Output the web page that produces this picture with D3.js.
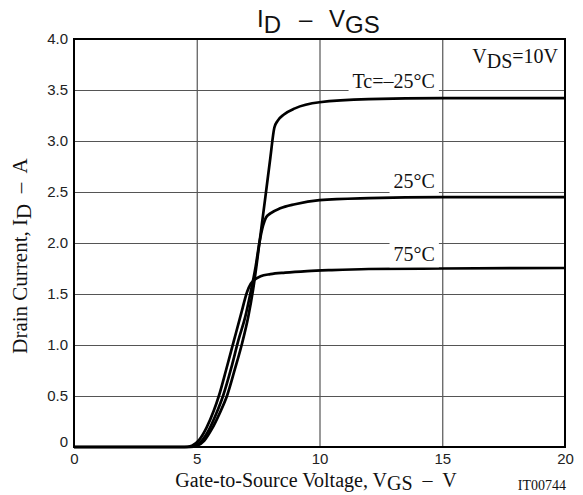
<!DOCTYPE html>
<html lang="en">
  <head>
    <meta charset="utf-8">
    <title>ID - VGS</title>
    <style>
      body { margin: 0; background: #fff; }
      svg { display: block; }
      .tick text { font-family: "Liberation Sans", Arial, sans-serif; font-size: 15px; fill: #222; }
      .serif { font-family: "Liberation Serif", "Times New Roman", serif; fill: #111; }
    </style>
  </head>
  <body>
    <script src="https://d3js.org/d3.v7.min.js"></script>
    <script>
      // curves: gate voltage (V) and drain current (A)
      const vgsM25 = [0, 4.75, 5.0, 5.3, 5.6, 5.95, 6.23, 6.55, 6.85, 7.1, 7.3, 7.58, 7.8, 8.0, 8.16, 8.3, 8.55, 9.0, 10, 12, 15, 20];
      const idM25  = [0, 0, 0.01, 0.06, 0.17, 0.34, 0.5, 0.76, 1.02, 1.28, 1.55, 2.05, 2.46, 2.84, 3.13, 3.2, 3.26, 3.32, 3.38, 3.41, 3.42, 3.42];

      const vgs25 = [0, 4.6, 4.9, 5.2, 5.5, 5.8, 6.07, 6.4, 6.7, 6.98, 7.18, 7.4, 7.55, 7.7, 7.82, 8.0, 8.4, 9.0, 10, 12, 15, 20];
      const id25  = [0, 0, 0.01, 0.06, 0.17, 0.33, 0.5, 0.77, 1.05, 1.28, 1.5, 1.77, 2.0, 2.17, 2.25, 2.29, 2.34, 2.38, 2.42, 2.44, 2.45, 2.45];

      const vgs75 = [0, 4.5, 4.8, 5.1, 5.4, 5.7, 5.9, 6.2, 6.5, 6.8, 7.05, 7.2, 7.35, 7.6, 8.0, 8.6, 9.5, 10.5, 12, 15, 20];
      const id75  = [0, 0, 0.013, 0.07, 0.19, 0.36, 0.5, 0.76, 1.03, 1.3, 1.52, 1.6, 1.64, 1.675, 1.695, 1.71, 1.725, 1.735, 1.745, 1.75, 1.755];

      const curveLabels = ["Tc=\u201325\u00b0C", "25\u00b0C", "75\u00b0C"];
      const xTicks = [0, 5, 10, 15, 20];
      const yTicks = [0, 0.5, 1.0, 1.5, 2.0, 2.5, 3.0, 3.5, 4.0];

      const w = 583;
      const h = 495;
      const margin = {top: 39, right: 18, bottom: 48, left: 74};
      const iw = w - margin.left - margin.right;
      const ih = h - margin.top - margin.bottom;

      const xScale = d3.scaleLinear().domain([0, 20]).range([0, iw]);
      const yScale = d3.scaleLinear().domain([0, 4]).range([ih, 0]);

      const svg = d3.select("body").append("svg")
        .attr("width", w)
        .attr("height", h);

      const g = svg.append("g")
        .attr("transform", `translate(${margin.left},${margin.top})`);

      // grid
      g.append("g")
        .attr("class", "grid")
        .attr("transform", `translate(0,${ih})`)
        .call(d3.axisBottom(xScale).tickValues(xTicks.slice(1, -1)).tickSize(-ih).tickFormat(""))
        .call(s => s.select(".domain").remove())
        .selectAll("line").attr("stroke", "#555").attr("stroke-width", 1.2);

      g.append("g")
        .attr("class", "grid")
        .call(d3.axisLeft(yScale).tickValues(yTicks.slice(1, -1)).tickSize(-iw).tickFormat(""))
        .call(s => s.select(".domain").remove())
        .selectAll("line").attr("stroke", "#555").attr("stroke-width", 1.2);

      // tick labels
      const xAxis = g.append("g")
        .attr("transform", `translate(0,${ih})`)
        .call(d3.axisBottom(xScale).tickValues(xTicks).tickSize(0).tickPadding(6).tickFormat(d3.format("d")));
      xAxis.select(".domain").remove();

      const yAxis = g.append("g")
        .call(d3.axisLeft(yScale).tickValues(yTicks).tickSize(0).tickPadding(6)
          .tickFormat(d => d === 0 ? "0" : d3.format(".1f")(d)));
      yAxis.select(".domain").remove();
      yAxis.selectAll(".tick").filter(d => d === 0).select("text").attr("dy", "-0.05em");

      // curves
      const line = d3.line()
        .x(d => xScale(d[0]))
        .y(d => yScale(d[1]))
        .curve(d3.curveMonotoneX);

      const series = [
        d3.zip(vgsM25, idM25),
        d3.zip(vgs25, id25),
        d3.zip(vgs75, id75)
      ];

      g.selectAll(".curve")
        .data(series)
        .enter()
        .append("path")
        .attr("class", "curve")
        .attr("d", line)
        .attr("fill", "none")
        .attr("stroke", "#000")
        .attr("stroke-width", 2.7)
        .attr("stroke-linejoin", "round");

      // frame
      g.append("rect")
        .attr("width", iw)
        .attr("height", ih)
        .attr("fill", "none")
        .attr("stroke", "#000")
        .attr("stroke-width", 2);

      // curve labels with white boxes over grid
      const labelPos = [[14.7, 3.52], [14.7, 2.54], [14.7, 1.82]];
      curveLabels.forEach((txt, i) => {
        const t = g.append("text")
          .attr("class", "serif")
          .attr("x", xScale(labelPos[i][0]))
          .attr("y", yScale(labelPos[i][1]))
          .attr("text-anchor", "end")
          .attr("font-size", 20)
          .text(txt);
        const b = t.node().getBBox();
        g.insert("rect", () => t.node())
          .attr("x", b.x - 4)
          .attr("y", b.y - 4)
          .attr("width", b.width + 8)
          .attr("height", b.height + 6)
          .attr("fill", "#fff");
      });

      // VDS note
      const vds = g.append("text")
        .attr("class", "serif")
        .attr("x", iw - 7)
        .attr("y", 24)
        .attr("text-anchor", "end")
        .attr("font-size", 20);
      vds.append("tspan").text("V");
      vds.append("tspan").attr("dy", 5).text("DS");
      vds.append("tspan").attr("dy", -5).text("=10V");

      // title
      const title = svg.append("text")
        .attr("y", 27)
        .attr("font-family", "Liberation Sans, Arial, sans-serif")
        .attr("font-size", 24)
        .attr("fill", "#111");
      title.append("tspan").attr("x", 257).text("I");
      title.append("tspan").attr("dy", 6).text("D");
      title.append("tspan").attr("x", 299).attr("dy", -6).text("\u2013");
      title.append("tspan").attr("x", 329).text("V");
      title.append("tspan").attr("dy", 6).text("GS");

      // x label
      const xl = svg.append("text")
        .attr("class", "serif")
        .attr("x", 316)
        .attr("y", 487)
        .attr("text-anchor", "middle")
        .attr("font-size", 20)
        .style("white-space", "pre");
      xl.append("tspan").text("Gate-to-Source Voltage, V");
      xl.append("tspan").attr("dy", 3).text("GS");
      xl.append("tspan").attr("dy", -3).text("  \u2013  V");

      // y label
      const yl = svg.append("text")
        .attr("class", "serif")
        .attr("transform", "translate(27, 256) rotate(-90)")
        .attr("text-anchor", "middle")
        .attr("font-size", 21)
        .style("white-space", "pre");
      yl.append("tspan").text("Drain Current, I");
      yl.append("tspan").attr("dy", 4).text("D");
      yl.append("tspan").attr("dy", -4).text("  \u2013  A");

      svg.append("text")
        .attr("class", "serif")
        .attr("x", 566)
        .attr("y", 490)
        .attr("text-anchor", "end")
        .attr("font-size", 14)
        .text("IT00744");
    </script>
  </body>
</html>
